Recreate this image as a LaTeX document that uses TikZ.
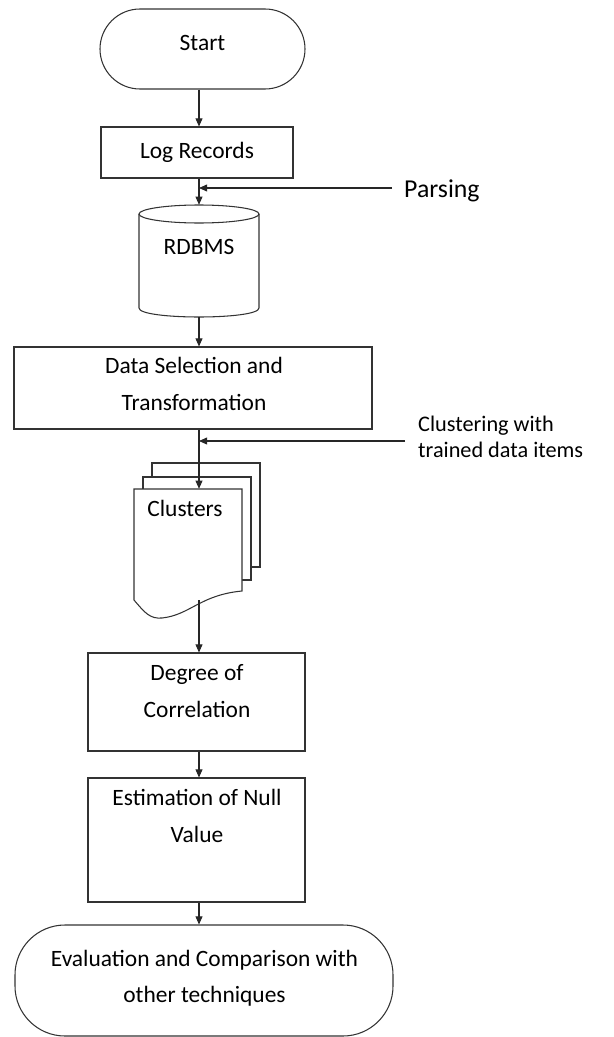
\documentclass[tikz,border=0pt]{standalone}
\usepackage{fontspec}
\setmainfont{Carlito}
\usetikzlibrary{arrows.meta}

\begin{document}
\begin{tikzpicture}[x=0.03cm,y=-0.03cm,
        every node/.style={font=\fontsize{20}{31}\selectfont},
        box/.style={draw=black!80,line width=0.9pt,fill=white},
        term/.style={box,rounded corners=1.2cm},
        txt/.style={align=center,inner sep=0pt},
        arr/.style={draw=black!85,line width=0.9pt,-{Triangle[length=7pt,width=6pt]}}]
        \useasboundingbox (0,0) rectangle (613,1037);
        \coordinate (ax) at (199,0);

        \draw (202.5,49) node[term,minimum width=6.15cm,minimum height=2.4cm] (start) {};
        \node[txt] at (202.5,43) {Start};
        \draw (197,152.5) node[box,minimum width=5.76cm,minimum height=1.53cm] (log) {Log Records};

        % database
        \draw (199,261) node[minimum width=3.6cm,minimum height=3.36cm,inner sep=0pt] (rdb) {};
        \draw[box] (139,214) -- (139,308) .. controls (139,320) and (259,320) .. (259,308) -- (259,214);
        \draw[box] (199,214) ellipse [x radius=60,y radius=9];
        \node[txt] at (199,247) {RDBMS};

        \draw (193,388) node[box,minimum width=10.74cm,minimum height=2.46cm] (ds) {};
        \node[txt] at (194,384) {Data Selection and\\Transformation};

        % stacked documents
        \draw (188,544.5) node[minimum width=3.24cm,minimum height=3.33cm,inner sep=0pt] (clu) {};
        \draw[box] (152,463) rectangle (260,567);
        \draw[box] (143,477) rectangle (251,580);
        \draw[box] (134,489) -- (242,489) -- (242,591)
        .. controls (200,595) and (190,615) .. (162,618)
        .. controls (150,619) and (145,613) .. (134,600) -- cycle;
        \node[txt] at (185,508) {Clusters};

        \draw (196.5,702) node[box,minimum width=6.51cm,minimum height=2.94cm] (deg) {};
        \node[txt] at (197,691) {Degree of\\Correlation};
        \draw (196.5,840) node[box,minimum width=6.51cm,minimum height=3.72cm] (est) {};
        \node[txt] at (197,816) {Estimation of Null\\Value};
        \draw (204,980.5) node[box,rounded corners=1.5cm,minimum width=11.34cm,minimum height=3.33cm] (eval) {};
        \node[txt] at (204.5,978.5) {Evaluation and Comparison with\\other techniques};

        % side inputs
        \node[txt,anchor=west,font=\fontsize{22}{26}\selectfont] (parse) at (404,191) {Parsing};
        \node[txt,anchor=west,align=left,font=\fontsize{19}{22}\selectfont] (clnote) at (418,437) {Clustering with\\trained data items};
        \coordinate (pe) at (392,188);
        \coordinate (pa) at (199,188);
        \coordinate (ce) at (405,441);
        \coordinate (ca) at (199,441);

        \draw[arr] (start.south -| ax) -- (log.north -| ax);
        \draw[arr] (log.south -| ax) -- (rdb.north -| ax);
        \draw[arr] (pe) -- (pa);
        \draw[arr] (rdb.south -| ax) -- (ds.north -| ax);
        \draw[arr] (ds.south -| ax) -- (clu.north -| ax);
        \draw[arr] (ce) -- (ca);
        \draw[arr] (clu.south -| ax) -- (deg.north -| ax);
        \draw[arr] (deg.south -| ax) -- (est.north -| ax);
        \draw[arr] (est.south -| ax) -- (eval.north -| ax);
    \end{tikzpicture}
\end{document}
